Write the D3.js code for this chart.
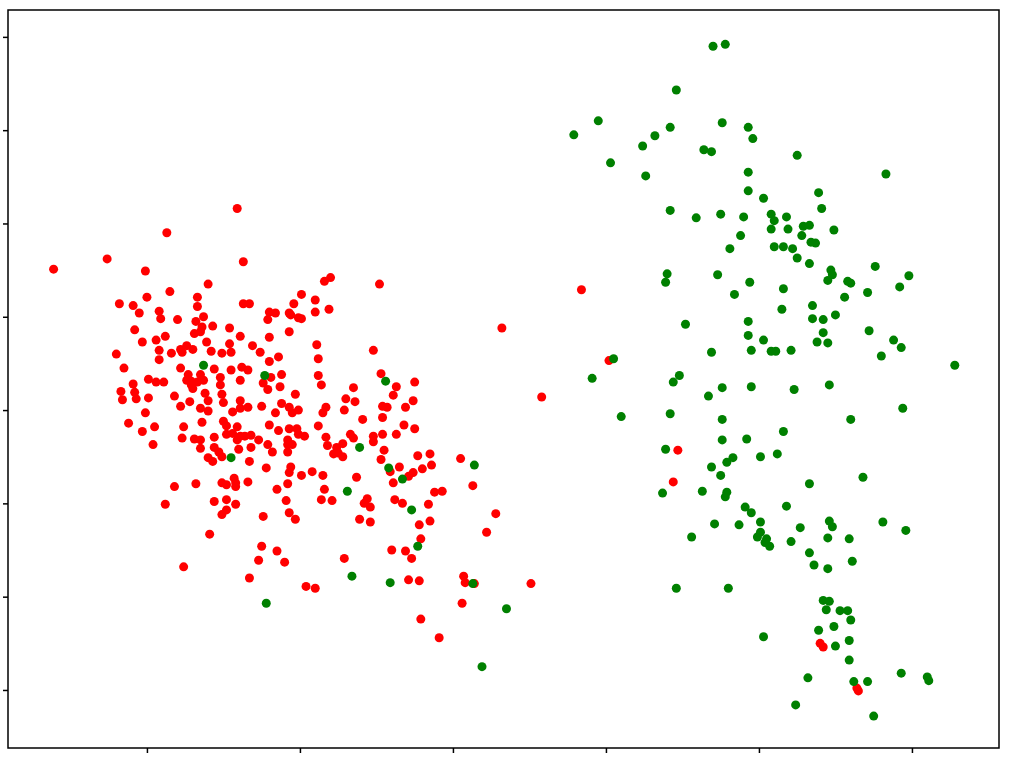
<!DOCTYPE html>
<html>
<head>
<meta charset="utf-8">
<script src="https://cdn.jsdelivr.net/npm/d3@7"></script>
<style>
  body { margin: 0; background: #fff; }
</style>
</head>
<body>
<div id="chart"></div>
<script>
// tick positions (the chart shows no tick labels)
var xTicks = [0, 1, 2, 3, 4, 5];
var yTicks = [0, 1, 2, 3, 4, 5, 6, 7];
var xTickLabels = ["", "", "", "", "", ""];
var yTickLabels = ["", "", "", "", "", "", "", ""];

// class 0 (red)
var redX = [0.13,-0.26,-0.61,-0.01,0.40,0.15,0.00,-0.18,-0.09,0.33,0.33,-0.05,0.08,0.09,0.20,0.32,0.37,0.43,0.36,0.35,
  0.31,0.54,-0.08,0.12,0.06,-0.03,0.39,0.54,0.26,0.22,0.30,0.23,0.08,0.16,0.42,0.49,0.55,-0.20,0.08,-0.15,
  0.22,0.44,0.55,0.27,0.35,0.01,0.06,0.11,0.26,0.29,0.37,0.33,0.29,0.30,0.48,0.48,-0.09,-0.17,-0.08,0.38,
  0.49,0.18,0.01,-0.16,-0.07,0.28,0.22,0.35,0.40,0.40,0.50,-0.01,-0.12,-0.03,0.05,0.24,0.36,0.50,0.52,0.04,
  0.23,0.31,0.35,0.44,0.52,0.35,0.44,0.47,0.40,0.43,0.49,0.18,0.32,0.49,0.52,0.12,0.44,0.52,0.52,0.49,
  0.41,0.24,0.59,0.63,1.16,1.20,1.52,1.01,1.10,0.63,0.67,0.96,0.80,0.84,0.79,0.93,0.94,0.99,1.01,1.10,
  1.19,0.61,0.80,0.93,1.11,1.12,0.69,0.74,0.86,0.80,0.62,0.66,0.81,0.88,0.61,0.76,0.79,0.87,0.97,1.12,
  1.14,1.48,1.53,1.63,1.75,1.61,1.35,1.30,1.36,1.74,0.61,2.84,2.32,2.58,0.56,0.61,0.66,0.75,0.84,0.88,
  0.93,0.95,0.99,1.15,1.17,1.29,1.41,1.54,1.57,1.54,1.69,0.59,0.56,0.61,0.64,0.68,0.59,0.73,0.80,0.86,
  0.93,0.98,0.99,1.03,0.92,0.92,0.95,0.92,0.79,0.82,0.68,0.60,0.67,1.12,1.17,1.18,1.24,1.28,1.22,1.25,
  1.28,1.33,1.35,1.48,1.48,1.54,1.63,1.68,1.75,1.55,1.53,1.59,1.65,1.71,1.74,1.61,1.77,1.85,1.80,1.86,
  0.57,0.58,0.58,0.66,0.78,0.85,0.94,0.93,0.92,1.01,1.08,1.15,1.16,1.14,1.21,0.91,0.93,0.97,0.76,0.58,
  1.37,1.44,1.42,1.46,1.39,1.46,1.62,1.67,1.84,1.78,1.85,1.79,0.75,0.85,0.73,0.90,0.67,1.04,1.10,1.29,
  1.60,1.69,1.73,1.71,1.78,1.79,2.05,1.88,1.93,2.13,2.28,2.22,2.07,2.08,2.14,2.51,2.06,1.91,3.02,3.47,
  3.44,4.40,4.42,4.64,4.65];
var redY = [4.90,4.62,4.51,4.49,4.35,4.27,4.21,4.14,4.12,4.21,4.11,4.04,4.06,3.98,3.97,3.95,4.00,3.90,3.89,3.84,
  3.82,3.88,3.86,3.79,3.75,3.73,3.73,3.71,3.69,3.65,3.65,3.62,3.64,3.61,3.63,3.61,3.62,3.60,3.54,3.45,
  3.45,3.44,3.43,3.38,3.38,3.33,3.30,3.30,3.32,3.31,3.32,3.30,3.27,3.23,3.35,3.27,3.28,3.20,3.19,3.18,
  3.17,3.15,3.13,3.11,3.12,3.09,3.04,3.02,2.99,3.10,3.08,2.97,2.86,2.77,2.82,2.82,2.87,2.88,2.83,2.63,
  2.70,2.69,2.68,2.71,2.74,2.59,2.60,2.55,2.49,2.45,2.50,2.18,2.21,2.22,2.20,1.99,2.02,2.04,1.93,1.88,
  1.67,1.32,5.16,4.59,4.38,4.42,4.35,4.24,4.18,4.14,4.14,4.14,4.05,4.04,3.97,4.04,4.02,3.99,3.98,4.05,
  4.08,3.79,3.78,3.84,3.70,3.55,3.69,3.62,3.57,3.52,3.46,3.43,3.35,3.38,3.32,3.29,3.22,3.25,3.17,3.37,
  3.27,3.64,3.39,3.25,3.30,3.16,3.24,3.12,3.09,3.10,3.10,4.29,3.88,3.14,2.98,3.02,3.03,3.04,2.97,3.07,
  3.03,2.97,3.00,2.97,3.03,3.00,2.90,3.04,3.03,2.92,3.03,2.82,2.75,2.72,2.72,2.73,2.68,2.68,2.84,2.78,
  2.80,2.80,2.74,2.72,2.68,2.63,2.63,2.55,2.63,2.55,2.60,2.58,2.45,2.83,2.71,2.62,2.60,2.64,2.53,2.54,
  2.50,2.74,2.70,2.72,2.66,2.74,2.74,2.84,2.80,2.57,2.47,2.34,2.39,2.29,2.33,2.22,2.51,2.53,2.37,2.41,
  2.27,2.22,2.18,2.23,2.38,2.15,2.39,2.33,2.21,2.30,2.34,2.30,2.15,2.04,2.03,2.03,1.90,1.83,1.86,1.99,
  2.28,2.05,2.00,1.96,1.83,1.80,2.04,2.00,1.99,1.77,1.81,1.62,1.54,1.49,1.39,1.37,1.20,1.11,1.09,1.41,
  1.50,1.49,1.41,1.18,1.17,0.76,2.48,2.12,2.13,2.19,1.89,1.69,1.22,1.15,1.14,1.14,0.93,0.56,3.53,2.57,
  2.23,0.50,0.46,0.02,-0.01];

// class 1 (green)
var greenX = [0.37,0.55,0.77,1.56,1.39,1.58,1.67,1.31,1.73,1.77,1.34,1.59,0.78,2.14,2.13,2.35,2.19,2.91,3.05,
  3.70,3.78,3.46,2.95,2.79,3.76,3.93,3.96,3.42,3.32,3.24,3.64,3.69,3.03,3.26,3.93,3.93,3.42,3.59,3.75,3.90,
  4.25,4.83,4.03,4.39,4.41,4.08,4.10,4.18,4.29,4.33,4.08,4.19,4.49,
  3.88,3.81,3.40,3.39,3.73,3.94,3.84,3.52,3.93,3.93,3.95,3.69,3.48,3.44,3.76,3.67,3.95,3.10,3.42,3.76,
  3.76,3.92,3.39,3.69,3.79,3.83,3.75,4.01,
  3.37,3.63,3.79,3.78,3.91,3.95,3.71,3.87,4.01,3.99,4.01,3.56,3.46,3.80,
  4.28,4.34,4.37,4.10,4.16,4.22,4.25,4.33,4.76,4.98,4.92,4.47,4.48,4.45,4.58,4.60,4.71,4.56,4.16,4.15,
  4.35,4.35,4.42,4.50,4.42,4.38,4.45,4.72,4.88,4.93,4.80,5.28,4.03,4.08,4.11,4.21,4.23,4.46,4.94,4.60,
  4.16,4.12,4.68,
  4.33,4.18,4.05,4.04,4.07,4.27,4.21,4.46,4.48,4.45,4.59,4.81,4.96,4.33,4.36,4.45,4.61,4.42,4.46,4.44,
  4.53,4.58,4.60,4.49,4.39,4.03,4.50,4.59,4.59,4.32,4.93,5.10,5.11,4.62,4.71,4.24,4.75];
var greenY = [3.48,2.49,3.37,3.31,2.60,2.38,2.26,2.13,1.93,1.54,1.22,1.15,0.93,2.41,1.14,0.87,0.25,3.34,3.55,
  6.90,6.92,6.43,6.10,5.95,6.08,6.03,5.91,6.03,5.94,5.83,5.79,5.77,5.65,5.51,5.55,5.35,5.14,5.06,5.10,5.07,
  5.73,5.53,5.27,5.33,5.16,5.10,5.03,5.07,4.97,4.98,4.94,4.94,4.93,
  4.87,4.73,4.46,4.37,4.45,4.37,4.24,3.92,3.95,3.80,3.64,3.62,3.37,3.30,3.24,3.15,3.25,2.93,2.96,2.90,
  2.68,2.69,2.58,2.39,2.44,2.49,2.30,2.50,
  2.11,2.13,2.12,2.07,1.96,1.90,1.78,1.77,1.80,1.64,1.69,1.64,1.09,1.09,
  4.87,4.80,4.79,4.75,4.75,4.73,4.63,4.57,4.54,4.44,4.32,4.50,4.45,4.39,4.38,4.36,4.26,4.21,4.30,4.08,
  4.12,3.98,3.97,4.02,3.83,3.73,3.72,3.85,3.75,3.67,3.58,3.48,3.75,3.63,3.63,3.64,3.22,3.27,3.02,2.90,
  2.77,2.53,2.28,
  2.21,1.97,1.62,1.58,1.54,1.74,1.59,1.81,1.75,1.63,1.62,1.80,1.71,1.47,1.34,1.30,1.38,0.96,0.95,0.86,
  0.85,0.85,0.75,0.68,0.64,0.57,0.47,0.53,0.32,0.13,0.18,0.14,0.10,0.09,0.09,-0.16,-0.28];

var width = 1011,
    height = 759;
var margin = {left: 8, right: 12, top: 10, bottom: 11};

var svg = d3.select("#chart")
            .append("svg")
            .attr("width", width)
            .attr("height", height)
            .style("font-family", "DejaVu Sans");

var x = d3.scaleLinear()
          .domain([-0.908, 5.569])
          .range([margin.left, width - margin.right]);

var y = d3.scaleLinear()
          .domain([-0.622, 7.288])
          .range([height - margin.bottom, margin.top]);

var red = redX.map(function(v, i) { return [v, redY[i]]; });
var green = greenX.map(function(v, i) { return [v, greenY[i]]; });

svg.append("g")
   .selectAll("circle")
   .data(red)
   .enter().append("circle")
   .attr("cx", function(d) { return x(d[0]); })
   .attr("cy", function(d) { return y(d[1]); })
   .attr("r", 4.5)
   .style("fill", "#ff0000");

svg.append("g")
   .selectAll("circle")
   .data(green)
   .enter().append("circle")
   .attr("cx", function(d) { return x(d[0]); })
   .attr("cy", function(d) { return y(d[1]); })
   .attr("r", 4.5)
   .style("fill", "#008000");

var xAxis = d3.axisBottom(x)
              .tickValues(xTicks)
              .tickFormat(function(d, i) { return xTickLabels[i]; })
              .tickSize(5)
              .tickSizeOuter(0);

var yAxis = d3.axisLeft(y)
              .tickValues(yTicks)
              .tickFormat(function(d, i) { return yTickLabels[i]; })
              .tickSize(5)
              .tickSizeOuter(0);

var gx = svg.append("g")
            .attr("transform", "translate(0," + (height - margin.bottom) + ")")
            .call(xAxis);
var gy = svg.append("g")
            .attr("transform", "translate(" + margin.left + ",0)")
            .call(yAxis);

[gx, gy].forEach(function(g) {
  g.select(".domain").remove();
  g.selectAll(".tick line").style("stroke", "#000").style("stroke-width", 1.5);
});

// frame
svg.append("rect")
   .attr("x", margin.left)
   .attr("y", margin.top)
   .attr("width", width - margin.left - margin.right)
   .attr("height", height - margin.top - margin.bottom)
   .style("fill", "none")
   .style("stroke", "#000")
   .style("stroke-width", 1.5);
</script>
</body>
</html>
